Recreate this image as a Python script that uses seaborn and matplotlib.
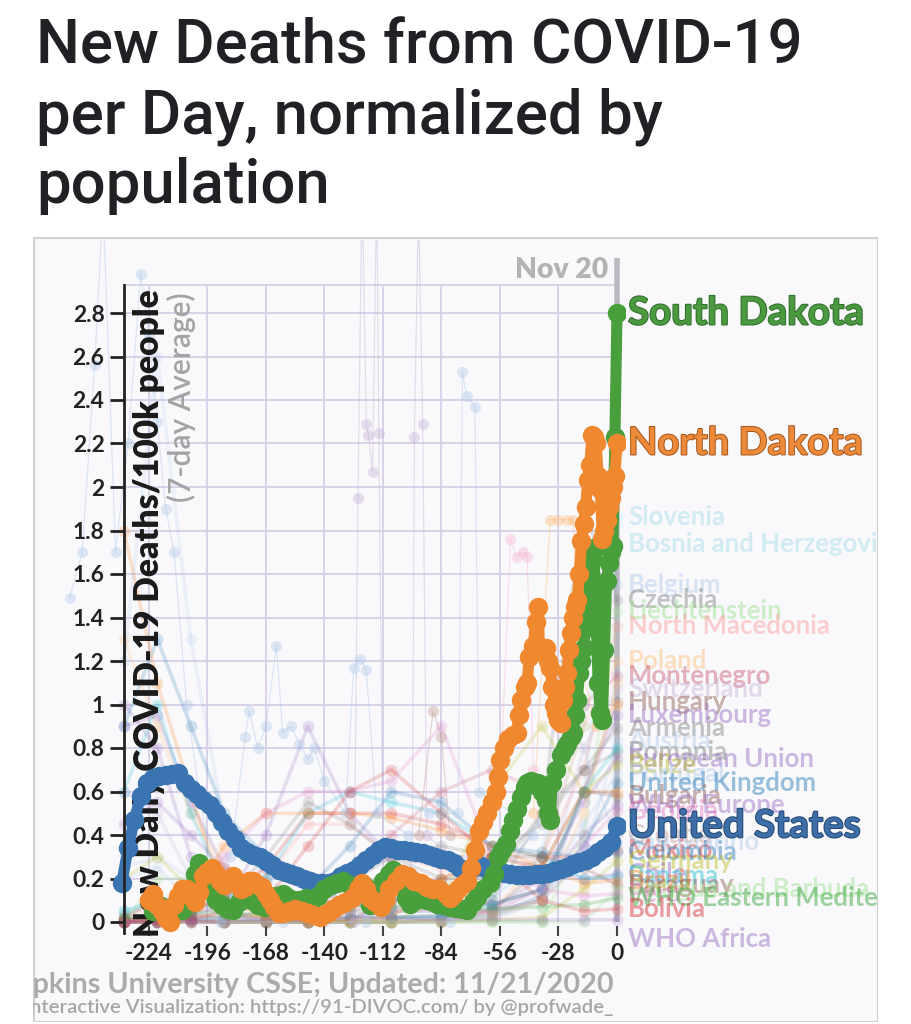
import numpy as np
import pandas as pd
import matplotlib
matplotlib.use("Agg")
import matplotlib.pyplot as plt
import matplotlib.patheffects as pe
from matplotlib.patches import Rectangle
import seaborn as sns

# ---------------- data ----------------
X_TICKS = [-224, -196, -168, -140, -112, -84, -56, -28, 0]
Y_TICKS = [0, 0.2, 0.4, 0.6, 0.8, 1.0, 1.2, 1.4, 1.6, 1.8, 2.0, 2.2, 2.4, 2.6, 2.8]

us_days = list(range(-237, 1, 3))
us_vals = [0.18, 0.34, 0.47, 0.58, 0.64, 0.66, 0.67, 0.675, 0.68, 0.685,
           0.64, 0.61, 0.59, 0.56, 0.54, 0.50, 0.46, 0.42, 0.38, 0.34,
           0.32, 0.31, 0.30, 0.28, 0.26, 0.24, 0.23, 0.22, 0.21, 0.20,
           0.19, 0.18, 0.18, 0.18, 0.19, 0.21, 0.225, 0.24, 0.26, 0.285,
           0.31, 0.33, 0.345, 0.34, 0.33, 0.33, 0.325, 0.32, 0.315, 0.31,
           0.30, 0.29, 0.285, 0.27, 0.25, 0.24, 0.25, 0.26, 0.25, 0.24,
           0.23, 0.225, 0.22, 0.215, 0.215, 0.215, 0.22, 0.22, 0.225, 0.235,
           0.245, 0.255, 0.265, 0.275, 0.285, 0.30, 0.32, 0.34, 0.37, 0.44]

north_dakota = [(-224, 0.10), (-222, 0.13), (-220, 0.08), (-218, 0.05), (-216, 0.02), (-214, 0.00),
                (-212, 0.08), (-210, 0.12), (-208, 0.15), (-206, 0.15), (-204, 0.12), (-202, 0.09),
                (-200, 0.14), (-198, 0.21), (-196, 0.23), (-194, 0.25), (-192, 0.22), (-190, 0.19),
                (-188, 0.17), (-186, 0.20), (-184, 0.21), (-182, 0.18), (-180, 0.15), (-178, 0.16),
                (-176, 0.19), (-174, 0.19), (-172, 0.17), (-170, 0.16), (-168, 0.13), (-166, 0.10),
                (-164, 0.07), (-162, 0.04), (-160, 0.04), (-157, 0.05), (-154, 0.06), (-151, 0.05),
                (-148, 0.04), (-145, 0.03), (-142, 0.025), (-139, 0.04), (-136, 0.06), (-133, 0.08),
                (-130, 0.09), (-127, 0.11), (-124, 0.15), (-122, 0.18), (-120, 0.15), (-118, 0.11),
                (-116, 0.09), (-113, 0.07), (-111, 0.10), (-109, 0.15), (-106, 0.19), (-103, 0.22),
                (-100, 0.21), (-97, 0.19), (-94, 0.18), (-91, 0.16), (-88, 0.15), (-85, 0.15),
                (-82, 0.13), (-80, 0.11), (-78, 0.13), (-76, 0.15), (-74, 0.17), (-72, 0.19),
                (-70, 0.25), (-68, 0.33), (-66, 0.42), (-64, 0.46), (-62, 0.50), (-60, 0.55),
                (-58, 0.60), (-57, 0.665), (-56, 0.745), (-54, 0.80), (-52, 0.84), (-50, 0.86),
                (-48, 0.87), (-47, 0.95), (-46, 1.02), (-44, 1.08), (-43, 1.10), (-42, 1.22),
                (-40, 1.27), (-39, 1.38), (-38, 1.45), (-37, 1.26), (-35, 1.24), (-34, 1.26),
                (-33, 1.20), (-32, 1.17), (-31, 1.08), (-30, 1.00), (-29, 0.96), (-28, 0.93),
                (-27, 0.915), (-26, 1.02), (-25, 1.08), (-24, 1.145), (-23, 1.25), (-22, 1.33),
                (-21, 1.40), (-20, 1.45), (-19, 1.48), (-18, 1.60), (-17, 1.75), (-16, 1.83),
                (-15, 1.91), (-14, 2.03), (-13, 2.10), (-12, 2.24), (-11, 2.23), (-10, 2.20),
                (-9, 2.05), (-8, 1.99), (-7, 1.76), (-6, 1.80), (-5, 1.85), (-4, 1.91),
                (-3, 1.95), (-2, 2.00), (-1, 2.05), (0, 2.20)]

south_dakota = [(-222, 0.05), (-219, 0.08), (-216, 0.06), (-213, 0.04), (-210, 0.06), (-208, 0.055),
                (-205, 0.12), (-202, 0.22), (-200, 0.27), (-198, 0.22), (-195, 0.15), (-192, 0.10),
                (-189, 0.08), (-186, 0.06), (-184, 0.055), (-181, 0.09), (-178, 0.12), (-175, 0.10),
                (-172, 0.08), (-169, 0.07), (-166, 0.09), (-163, 0.12), (-160, 0.13), (-158, 0.115),
                (-155, 0.10), (-152, 0.10), (-149, 0.11), (-146, 0.10), (-143, 0.12), (-140, 0.15),
                (-137, 0.17), (-134, 0.18), (-131, 0.19), (-128, 0.17), (-126, 0.15), (-123, 0.15),
                (-120, 0.16), (-118, 0.08), (-115, 0.10), (-112, 0.19), (-109, 0.22), (-107, 0.24),
                (-104, 0.18), (-101, 0.11), (-99, 0.085), (-96, 0.10), (-94, 0.115), (-91, 0.10),
                (-88, 0.09), (-86, 0.085), (-83, 0.08), (-80, 0.07), (-77, 0.065), (-74, 0.06),
                (-72, 0.055), (-69, 0.09), (-67, 0.115), (-64, 0.15), (-61, 0.18), (-59, 0.22),
                (-57, 0.30), (-55, 0.33), (-53, 0.36), (-51, 0.42), (-50, 0.47), (-48, 0.52),
                (-46, 0.575), (-44, 0.62), (-43, 0.64), (-41, 0.65), (-39, 0.64), (-38, 0.64),
                (-36, 0.60), (-34, 0.56), (-33, 0.50), (-32, 0.47), (-31, 0.64), (-29, 0.70),
                (-27, 0.77), (-25, 0.80), (-24, 0.82), (-22, 0.85), (-21, 0.87), (-20, 0.95),
                (-19, 1.02), (-18, 1.145), (-17, 1.20), (-16, 1.26), (-15, 1.35), (-14, 1.42),
                (-13, 1.60), (-12, 1.68), (-11, 1.72), (-10, 1.37), (-9, 1.10), (-8, 0.96),
                (-7, 0.93), (-6, 1.25), (-5, 1.57), (-4, 1.65), (-3, 1.70), (-2, 1.73),
                (-1, 2.23), (0, 2.80)]

# faint background regions, sampled at BG_DAYS
BG_DAYS = [-236, -220, -204, -188, -168, -148, -128, -108, -84, -60, -36, -16, 0]
slovenia = [0.05, 0.10, 0.05, 0.02, 0.00, 0.00, 0.00, 0.00, 0.01, 0.02, 0.10, 0.60, 1.86]
bosnia = [0.01, 0.03, 0.02, 0.00, 0.01, 0.05, 0.10, 0.20, 0.18, 0.12, 0.30, 0.90, 1.74]
belgium = [1.20, 2.60, 1.30, 0.45, 0.20, 0.07, 0.03, 0.05, 0.05, 0.10, 0.30, 1.50, 1.55]
czechia = [0.01, 0.01, 0.01, 0.00, 0.00, 0.00, 0.00, 0.00, 0.01, 0.10, 0.50, 1.90, 1.48]
liechtenstein = [0.00, 0.00, 0.00, 0.00, 0.00, 0.00, 0.00, 0.00, 0.00, 0.00, 0.00, 0.40, 1.43]
north_macedonia = [0.02, 0.07, 0.06, 0.05, 0.20, 0.45, 0.45, 0.30, 0.25, 0.20, 0.30, 0.70, 1.36]
poland = [0.01, 0.02, 0.03, 0.03, 0.03, 0.02, 0.01, 0.02, 0.03, 0.05, 0.30, 0.90, 1.20]
montenegro = [0.00, 0.05, 0.01, 0.00, 0.00, 0.00, 0.20, 0.40, 0.60, 0.70, 0.60, 1.00, 1.13]
switzerland = [0.60, 0.50, 0.20, 0.03, 0.01, 0.00, 0.00, 0.00, 0.00, 0.01, 0.10, 0.80, 1.07]
hungary = [0.02, 0.10, 0.10, 0.05, 0.02, 0.00, 0.00, 0.00, 0.01, 0.05, 0.25, 0.60, 1.01]
luxembourg = [1.00, 0.80, 0.30, 0.05, 0.00, 0.00, 0.02, 0.05, 0.05, 0.05, 0.10, 0.60, 0.95]
armenia = [0.00, 0.03, 0.05, 0.10, 0.30, 0.55, 0.45, 0.30, 0.20, 0.20, 0.50, 0.70, 0.89]
austria = [0.20, 0.25, 0.10, 0.02, 0.01, 0.00, 0.00, 0.01, 0.01, 0.03, 0.10, 0.30, 0.83]
romania = [0.03, 0.10, 0.12, 0.10, 0.08, 0.10, 0.18, 0.30, 0.35, 0.30, 0.45, 0.70, 0.78]
european_union = [0.90, 0.95, 0.55, 0.25, 0.10, 0.04, 0.02, 0.02, 0.03, 0.06, 0.20, 0.55, 0.75]
belize = [0.00, 0.00, 0.00, 0.00, 0.00, 0.00, 0.00, 0.00, 0.10, 0.60, 0.90, 0.60, 0.72]
portugal = [0.25, 0.30, 0.20, 0.13, 0.10, 0.05, 0.05, 0.03, 0.02, 0.05, 0.15, 0.45, 0.68]
united_kingdom = [0.90, 1.30, 0.90, 0.50, 0.30, 0.15, 0.10, 0.02, 0.02, 0.03, 0.12, 0.35, 0.64]
bulgaria = [0.01, 0.03, 0.03, 0.02, 0.02, 0.02, 0.05, 0.10, 0.10, 0.08, 0.15, 0.60, 0.58]
who_europe = [0.45, 0.55, 0.40, 0.25, 0.15, 0.10, 0.08, 0.07, 0.07, 0.08, 0.15, 0.40, 0.54]
georgia = [0.00, 0.00, 0.00, 0.00, 0.00, 0.00, 0.00, 0.00, 0.00, 0.05, 0.15, 0.35, 0.51]
croatia = [0.01, 0.03, 0.03, 0.01, 0.00, 0.02, 0.05, 0.05, 0.06, 0.05, 0.10, 0.30, 0.40]
mexico = [0.00, 0.01, 0.05, 0.12, 0.25, 0.50, 0.50, 0.50, 0.45, 0.35, 0.30, 0.30, 0.33]
colombia = [0.00, 0.00, 0.01, 0.02, 0.05, 0.15, 0.35, 0.60, 0.55, 0.35, 0.32, 0.30, 0.32]
germany = [0.20, 0.30, 0.15, 0.05, 0.02, 0.01, 0.00, 0.00, 0.00, 0.01, 0.02, 0.15, 0.28]
chile = [0.00, 0.01, 0.03, 0.08, 0.40, 0.90, 0.50, 0.30, 0.30, 0.30, 0.25, 0.20, 0.22]
panama = [0.05, 0.10, 0.10, 0.10, 0.20, 0.50, 0.60, 0.55, 0.50, 0.35, 0.30, 0.20, 0.21]
brazil = [0.00, 0.01, 0.10, 0.35, 0.50, 0.50, 0.50, 0.48, 0.42, 0.35, 0.25, 0.18, 0.19]
paraguay = [0.00, 0.00, 0.00, 0.00, 0.00, 0.00, 0.01, 0.10, 0.20, 0.30, 0.30, 0.25, 0.17]
antigua = [0.00, 0.20, 0.20, 0.00, 0.00, 0.00, 0.00, 0.00, 0.00, 0.00, 0.00, 0.00, 0.15]
peru = [0.00, 0.03, 0.10, 0.30, 0.50, 0.60, 0.60, 0.65, 0.90, 0.30, 0.15, 0.12, 0.13]
who_east_med = [0.02, 0.03, 0.04, 0.05, 0.08, 0.10, 0.08, 0.07, 0.06, 0.06, 0.07, 0.08, 0.11]
bolivia = [0.00, 0.00, 0.01, 0.05, 0.10, 0.35, 0.60, 0.70, 0.50, 0.30, 0.10, 0.05, 0.06]
italy = [1.30, 0.90, 0.50, 0.25, 0.10, 0.05, 0.02, 0.01, 0.01, 0.03, 0.10, 0.50, 1.10]
spain = [1.80, 1.10, 0.60, 0.10, 0.02, 0.00, 0.01, 0.02, 0.20, 0.30, 0.25, 0.60, 0.60]
france = [0.60, 1.00, 0.50, 0.15, 0.05, 0.02, 0.02, 0.02, 0.03, 0.08, 0.15, 0.60, 0.80]
who_africa = [0.00, 0.00, 0.00, 0.00, 0.01, 0.01, 0.02, 0.02, 0.01, 0.01, 0.01, 0.01, 0.01]

# small, spiky places (own day grids)
san_marino = [(-262, 1.49), (-256, 1.70), (-250, 2.56), (-246, 3.30), (-240, 1.70), (-234, 2.20),
              (-228, 2.98), (-224, 2.70), (-220, 2.30), (-216, 1.90), (-212, 1.70), (-206, 1.00),
              (-200, 0.60), (-190, 0.00), (-160, 0.00), (-120, 0.00), (-80, 0.00), (-40, 0.40),
              (-20, 0.90), (0, 0.37)]
spike_purple = [(-140, 0.00), (-126, 0.00), (-124, 1.95), (-122, 3.40), (-120, 2.29), (-119, 2.24),
                (-117, 2.07), (-115, 3.40), (-114, 2.25), (-112, 0.30), (-100, 0.20), (-98, 0.30),
                (-97, 2.23), (-95, 3.30), (-93, 2.29), (-91, 0.40), (-80, 0.30), (-60, 0.20)]
spike_blue = [(-90, 0.50), (-76, 0.50), (-74, 2.53), (-72, 2.42), (-68, 2.37), (-66, 0.60), (-50, 0.50)]
spike_lightblue = [(-185, 0.30), (-178, 0.85), (-176, 0.97), (-172, 0.80), (-168, 0.90), (-163, 1.27),
                   (-160, 0.87), (-156, 0.90), (-152, 0.82), (-148, 0.75), (-145, 0.80), (-140, 0.65),
                   (-130, 0.50), (-126, 1.17), (-123, 1.21), (-120, 1.16), (-115, 0.50), (-100, 0.40)]
spike_orange = [(-40, 0.50), (-32, 1.85), (-28, 1.85), (-24, 1.85), (-21, 1.85), (-18, 1.20), (-10, 0.90), (0, 1.00)]
spike_pink = [(-56, 0.60), (-51, 1.76), (-48, 1.68), (-45, 1.70), (-43, 1.68), (-40, 0.70), (-30, 0.50)]
spike_rose = [(-95, 0.40), (-88, 0.97), (-84, 0.85), (-80, 0.40)]

# ---------------- figure geometry ----------------
W, H = 912, 1024
plt.rcParams['font.family'] = ['Lato', 'DejaVu Sans']
plt.rcParams['axes.unicode_minus'] = False

fig = plt.figure(figsize=(W / 100, H / 100), dpi=100)
fig.patch.set_facecolor('white')


def px_rect(l, t, r, b):
    return [l / W, 1 - b / H, (r - l) / W, (b - t) / H]


# panel
bg = fig.add_axes(px_rect(33, 237, 878, 1022))
bg.set_xlim(0, 1)
bg.set_ylim(0, 1)
bg.axis('off')
bg.add_patch(Rectangle((0, 0), 1, 1, transform=bg.transAxes, facecolor='#f9f9fc',
                       edgecolor='#cfcfcf', lw=2.2, zorder=0))

# main axes: day = (px-617)/2.0893 ; val = (922-py)/217.5
ax = fig.add_axes(px_rect(35, 240, 625, 1020))
ax.patch.set_alpha(0)
PXD, PXV = 2.0893, 217.5
ax.set_xlim((35 - 617) / PXD, (625 - 617) / PXD)
ax.set_ylim((922 - 1020) / PXV, (922 - 240) / PXV)
SP_X, SP_TOP = -236, 2.93

# grid
ax.hlines(Y_TICKS[1:] + [SP_TOP], SP_X, 0, colors='#d6d0e8', lw=1.3, zorder=0.5)
ax.vlines(X_TICKS, 0, SP_TOP, colors='#d6d0e8', lw=1.3, zorder=0.5)
ax.vlines([0], 0, (922 - 258) / PXV, colors='#b4b4bc', lw=4, zorder=0.6, alpha=0.9)


def draw(days, vals, color, lw, ms, alpha, z):
    df = pd.DataFrame({"day": days, "val": vals})
    sns.lineplot(data=df, x="day", y="val", ax=ax, color=color, linewidth=lw,
                 marker="o", markersize=ms, markeredgewidth=0, alpha=alpha,
                 estimator=None, sort=False, legend=False, zorder=z)


bg_series = [
    ("Slovenia", slovenia, '#9edae5'), ("Bosnia and Herzegovina", bosnia, '#9edae5'),
    ("Belgium", belgium, '#aec7e8'), ("Czechia", czechia, '#7f7f7f'),
    ("Liechtenstein", liechtenstein, '#98df8a'), ("North Macedonia", north_macedonia, '#ff9896'),
    ("Poland", poland, '#ffbb78'), ("Montenegro", montenegro, '#c7566d'),
    ("Switzerland", switzerland, '#c5b0d5'), ("Hungary", hungary, '#8c564b'),
    ("Luxembourg", luxembourg, '#9467bd'), ("Armenia", armenia, '#7f7f7f'),
    ("Austria", austria, '#aec7e8'), ("Romania", romania, '#7f7f7f'),
    ("European Union", european_union, '#9467bd'), ("Belize", belize, '#bcbd22'),
    ("Portugal", portugal, '#aec7e8'), ("United Kingdom", united_kingdom, '#1f77b4'),
    ("Bulgaria", bulgaria, '#8c564b'), ("WHO Europe", who_europe, '#9467bd'),
    ("Georgia", georgia, '#e377c2'), ("Croatia", croatia, '#c49c94'),
    ("Mexico", mexico, '#d62728'), ("Colombia", colombia, '#1f77b4'),
    ("Germany", germany, '#bcbd22'), ("Chile", chile, '#9467bd'),
    ("Panama", panama, '#17becf'), ("Brazil", brazil, '#ff7f0e'),
    ("Paraguay", paraguay, '#8c564b'), ("Antigua and Barbuda", antigua, '#98df8a'),
    ("Peru", peru, '#e377c2'), ("WHO Eastern Mediterranean", who_east_med, '#2ca02c'),
    ("Bolivia", bolivia, '#d62728'), ("Italy", italy, '#ffbb78'),
    ("Spain", spain, '#ff7f0e'), ("France", france, '#17becf'),
    ("WHO Africa", who_africa, '#9467bd'),
]
UNLABELLED = {"Italy", "Spain", "France"}
LABEL_NUDGE = {"WHO Africa": -0.09}

for name, vals, col in bg_series:
    draw(BG_DAYS, vals, col, 2.6, 8.5, 0.2, 1)

spikes = [(san_marino, '#aec7e8'), (spike_purple, '#c5b0d5'), (spike_blue, '#aec7e8'),
          (spike_lightblue, '#aec7e8'), (spike_orange, '#ffbb78'), (spike_pink, '#f7b6d2'),
          (spike_rose, '#c49c94')]
for pts, col in spikes:
    d, v = zip(*pts)
    draw(list(d), list(v), col, 0.9, 8, 0.4, 1)

# main series
BLUE, ORANGE, GREEN = '#3a75b2', '#f0882f', '#4a9f3d'
MS, LW = 14, 8
draw(us_days, us_vals, BLUE, LW, MS, 1, 5)
sd_d, sd_v = zip(*south_dakota)
draw(list(sd_d), list(sd_v), GREEN, LW, MS, 1, 6)
nd_d, nd_v = zip(*north_dakota)
draw(list(nd_d), list(nd_v), ORANGE, LW, MS, 1, 7)

# axes styling
ax.set_xlabel("")
ax.set_ylabel("")
for s in ['top', 'right']:
    ax.spines[s].set_visible(False)
ax.spines['left'].set_position(('data', SP_X))
ax.spines['left'].set_bounds(-0.05, SP_TOP)
ax.spines['left'].set_color('#222222')
ax.spines['left'].set_linewidth(2)
ax.spines['left'].set_zorder(8)
ax.spines['bottom'].set_position(('data', -0.02))
ax.spines['bottom'].set_visible(False)
ax.set_xticks(X_TICKS)
ax.set_xticklabels([str(t) for t in X_TICKS])
ax.set_yticks(Y_TICKS)
ax.set_yticklabels([f"{t:g}" for t in Y_TICKS])
ax.tick_params(axis='y', direction='out', length=10, width=2, color='#222222', pad=4,
               labelsize=14.5, labelcolor='#222222')
ax.tick_params(axis='x', direction='out', length=7, width=1.5, color='#444444', pad=5,
               labelsize=14.5, labelcolor='#222222')

fig.canvas.draw()
R = fig.canvas.get_renderer()


def fit(t, target, dim='w'):
    bb = t.get_window_extent(renderer=R)
    cur = bb.width if dim == 'w' else bb.height
    t.set_fontsize(t.get_fontsize() * target / cur)
    return t


# tick label size: "-224" is about 48 px wide in the reference
probe = fig.text(0, 0, "-224", fontsize=14.5, fontweight='bold')
fit(probe, 48)
tick_fs = probe.get_fontsize()
probe.remove()
ax.tick_params(axis='both', labelsize=tick_fs)
for lbl in ax.get_xticklabels() + ax.get_yticklabels():
    lbl.set_fontweight('bold')

# axis titles inside the plot (behind the main series)
yl = ax.text(-224, (922 - 613) / PXV, "New Daily COVID-19 Deaths/100k people", rotation=90,
             ha='center', va='center', fontsize=20, fontweight='heavy', color='#1a1a1a', zorder=4)
fit(yl, 647, 'h')
yl2 = ax.text(-208.5, (922 - 397) / PXV, "(7-day Average)", rotation=90, ha='center', va='center',
              fontsize=16, fontweight='semibold', color='#a3a3a3', zorder=4)
fit(yl2, 211, 'h')
nov = ax.text(-4.3, (922 - 270) / PXV, "Nov 20", ha='right', va='center', fontsize=18,
              fontweight='heavy', color='#b3b3b3', zorder=9)
fit(nov, 93)

# series end labels
LX = (628 - 617) / PXD


def end_label(name, y, color, stroke, size, alpha=1.0, z=10, width=None):
    t = ax.text(LX, y, name, ha='left', va='center', fontsize=size, fontweight='bold',
                color=color, alpha=alpha, zorder=z, clip_on=True)
    t.set_clip_box(bg.bbox)
    if stroke:
        t.set_path_effects([pe.withStroke(linewidth=1.4, foreground=stroke)])
    if width:
        fit(t, width)
    return t


tmp = end_label("Slovenia", 0, 'k', None, 15)
fit(tmp, 97)
faint_size = tmp.get_fontsize()
tmp.remove()

for name, vals, col in bg_series:
    if name in UNLABELLED:
        continue
    end_label(name, vals[-1] + LABEL_NUDGE.get(name, 0), col, None, faint_size, alpha=0.45, z=3)
end_label("San Marino", san_marino[-1][1], '#aec7e8', None, faint_size, alpha=0.45, z=3)

end_label("South Dakota", sd_v[-1], '#4c9a3f', '#2e6b2a', 22, z=11, width=235)
end_label("North Dakota", nd_v[-1], '#ec8a3a', '#a3561c', 22, z=11, width=234)
end_label("United States", us_vals[-1], '#3d6ea8', '#23466f', 22, z=11, width=232)

# source lines (clipped by the panel border on the left)
src1 = "Data: Johns Hopkins University CSSE; Updated: 11/21/2020"
src2 = "Interactive Visualization: https://91-DIVOC.com/ by @profwade_"
for full, vis, y, target, col, wt in [
        (src1, "pkins University CSSE; Updated: 11/21/2020", 985, 581, '#ababab', 'bold'),
        (src2, "nteractive Visualization: https://91-DIVOC.com/ by @profwade_", 1007, 584, '#a6a6a6', 'semibold')]:
    probe = fig.text(0, 0, vis, fontsize=16, fontweight=wt)
    fit(probe, target)
    fs = probe.get_fontsize()
    probe.remove()
    t = fig.text(614 / W, 1 - y / H, full, ha='right', va='center', fontsize=fs,
                 fontweight=wt, color=col, zorder=5)
    t.set_clip_on(True)
    t.set_clip_box(bg.bbox)

# title
for line, base in [("New Deaths from COVID-19", 63), ("per Day, normalized by", 133), ("population", 203)]:
    fig.text(36 / W, 1 - base / H, line, ha='left', va='baseline', fontsize=44.5,
             family=['Roboto', 'DejaVu Sans'], fontweight='medium', color='#202124')

fig.savefig("out.png", dpi=100, facecolor='white')
